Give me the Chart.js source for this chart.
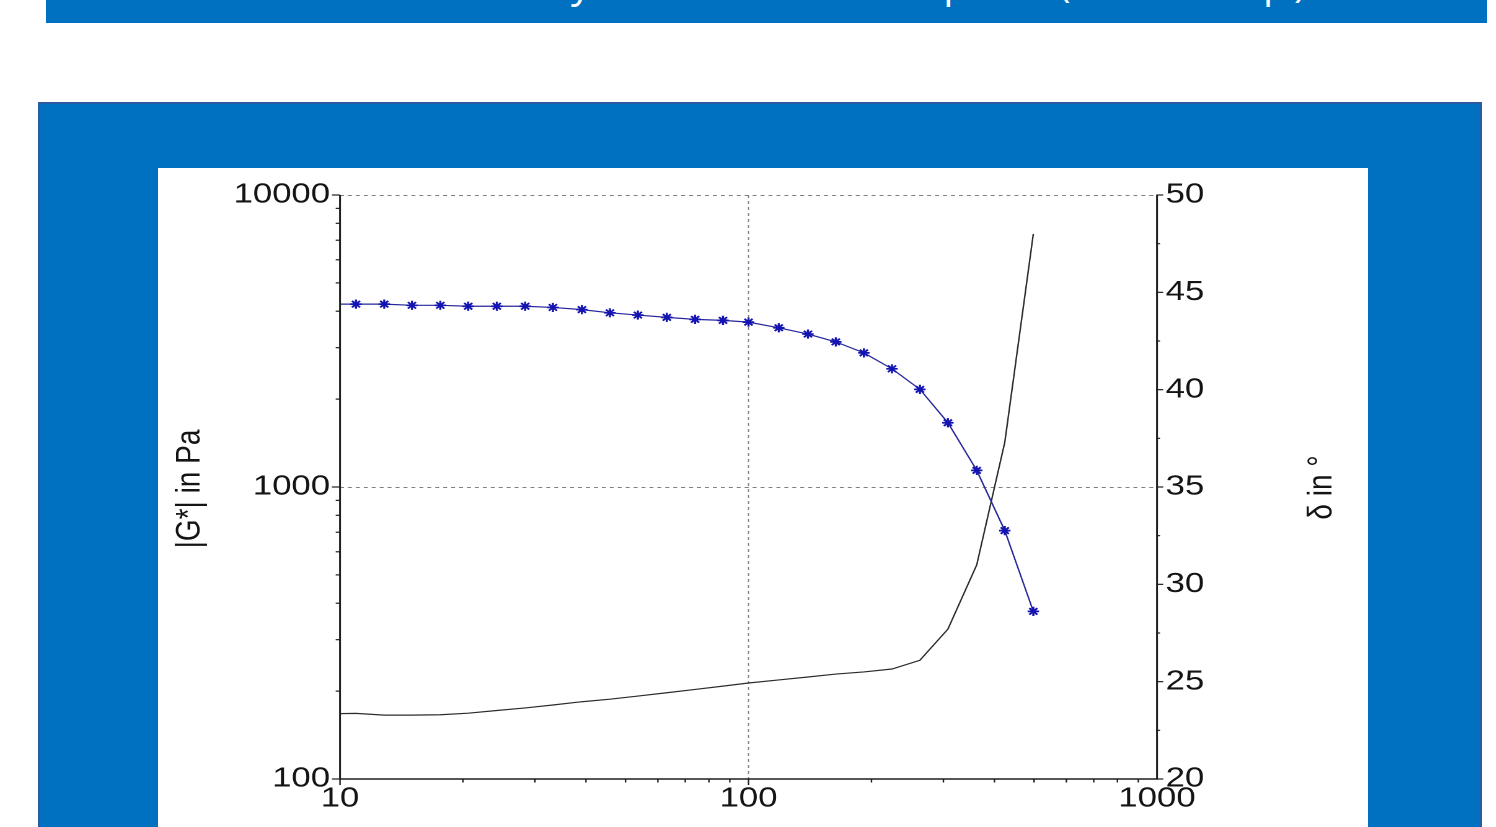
<!DOCTYPE html>
<html>
<head>
<meta charset="utf-8">
<script src="https://cdn.jsdelivr.net/npm/chart.js@4/dist/chart.umd.min.js"></script>
<style>
html,body{margin:0;padding:0;background:#fff;width:1496px;height:827px;overflow:hidden;}
#banner{position:absolute;left:46px;top:0;width:1441px;height:23px;background:#0070c0;overflow:hidden;}
#title{position:absolute;left:39px;top:-38px;font:40px/40px "Open Sans",sans-serif;color:#fff;white-space:nowrap;letter-spacing:2.6px;}
#title span{letter-spacing:6.6px;}
#panel{position:absolute;left:38px;top:102px;width:1440px;height:730px;background:#0070c0;border-left:2px solid #2c5aa0;border-top:2px solid #2c5aa0;border-right:2px solid #2c5aa0;}
#plot{position:absolute;left:158px;top:168px;width:1210px;height:659px;background:#fff;overflow:hidden;}
#c{position:absolute;left:0;top:0;transform-origin:0 0;}
</style>
</head>
<body>
<div id="banner"><div id="title">Structure of the Gummy mechanical samp<span>les (from top)</span></div></div>
<div id="panel"></div>
<div id="plot"><canvas id="c" width="976" height="659"></canvas></div>
<script>
// ---- data ----
const frequency = [9.33, 10.94, 12.83, 15.0, 17.6, 20.6, 24.2, 28.4, 33.2, 39.1, 45.8, 53.6, 63.1, 74.0, 86.6, 100, 118.6, 139.8, 163.6, 191.6, 224.5, 262.8, 307.7, 362, 424, 498];
const complexModulus = [4230, 4230, 4230, 4190, 4190, 4160, 4160, 4160, 4120, 4050, 3950, 3880, 3810, 3750, 3720, 3670, 3510, 3340, 3140, 2880, 2540, 2160, 1660, 1140, 709, 375];
const phaseAngle = [23.35, 23.37, 23.28, 23.28, 23.3, 23.38, 23.52, 23.65, 23.8, 23.97, 24.1, 24.26, 24.43, 24.6, 24.77, 24.93, 25.09, 25.24, 25.39, 25.5, 25.65, 26.1, 27.7, 31.0, 37.3, 48.0];
const xTickLabels = [10, 100, 1000];
const leftTickLabels = [100, 1000, 10000];
const rightTickLabels = [20, 25, 30, 35, 40, 45, 50];
const leftTitle = '|G*| in Pa';
const rightTitle = 'δ in °';

// ---- layout ----
const SX = 1210 / 976;               // horizontal stretch of the pasted chart
const canvasEl = document.getElementById('c');
canvasEl.style.transform = 'scaleX(' + SX + ')';
const LEFT_W = 182 / SX;
const RIGHT_W = 976 - 999 / SX;
const FONT = {family: '"Liberation Sans", Arial, sans-serif', size: 28};
const TXT = '#141414';

const framePlugin = {
  id: 'frame',
  beforeDatasetsDraw(chart) {
    const {ctx, chartArea: a, scales} = chart;
    ctx.save();
    ctx.strokeStyle = '#808080';
    ctx.lineWidth = 1;
    ctx.setLineDash([3.2, 3.2]);
    [1000, 10000].forEach(v => {
      const y = Math.round(scales.yG.getPixelForValue(v)) + 0.5;
      ctx.beginPath(); ctx.moveTo(a.left, y); ctx.lineTo(a.right, y); ctx.stroke();
    });
    ctx.setLineDash([3, 3]);
    [100].forEach(v => {
      const x = scales.x.getPixelForValue(v);
      ctx.beginPath(); ctx.moveTo(x, a.top); ctx.lineTo(x, a.bottom); ctx.stroke();
    });
    ctx.restore();
  },
  afterDatasetsDraw(chart) {
    const {ctx, chartArea: a, scales} = chart;
    ctx.save();
    ctx.strokeStyle = '#1e1e1e';
    ctx.lineWidth = 1.5;
    ctx.setLineDash([]);
    // axis lines
    ctx.beginPath();
    ctx.moveTo(a.left, a.top); ctx.lineTo(a.left, a.bottom);
    ctx.lineTo(a.right, a.bottom); ctx.moveTo(a.right, a.top); ctx.lineTo(a.right, a.bottom + 0.75);
    ctx.stroke();
    ctx.lineWidth = 1.2;
    // left ticks
    [100, 1000].forEach(d => {
      for (let m = 1; m <= 9; m++) {
        const y = scales.yG.getPixelForValue(m * d);
        const len = m === 1 ? 6.5 : 3.5;
        ctx.beginPath(); ctx.moveTo(a.left - len, y); ctx.lineTo(a.left + 0.5, y); ctx.stroke();
      }
    });
    {
      const y = scales.yG.getPixelForValue(10000);
      ctx.beginPath(); ctx.moveTo(a.left - 6.5, y); ctx.lineTo(a.left, y); ctx.stroke();
    }
    // bottom ticks
    [10, 100].forEach(d => {
      for (let m = 1; m <= 9; m++) {
        const x = scales.x.getPixelForValue(m * d);
        const len = m === 1 ? 6 : 3.5;
        ctx.beginPath(); ctx.moveTo(x, a.bottom); ctx.lineTo(x, a.bottom + len); ctx.stroke();
      }
    });
    // right ticks
    for (let v = 20; v <= 50; v += 2.5) {
      const y = scales.yD.getPixelForValue(v);
      const len = v % 5 === 0 ? 5 : 2.5;
      ctx.beginPath(); ctx.moveTo(a.right - 0.5, y); ctx.lineTo(a.right + len, y); ctx.stroke();
    }
    // axis titles (rotated, reading bottom to top)
    ctx.fillStyle = TXT;
    ctx.font = FONT.size + 'px ' + FONT.family;
    ctx.textAlign = 'center';
    ctx.textBaseline = 'middle';
    [[leftTitle, (190 - 158) / SX, 321], [rightTitle, (1322 - 158) / SX, 319.5]].forEach(([t, x, y]) => {
      ctx.save(); ctx.translate(x, y); ctx.rotate(-Math.PI / 2); ctx.fillText(t, 0, 0); ctx.restore();
    });
    ctx.restore();
  }
};

new Chart(canvasEl, {
  type: 'line',
  data: {
    datasets: [
      {
        label: '|G*|',
        data: frequency.map((f, i) => ({x: f, y: complexModulus[i]})),
        yAxisID: 'yG',
        borderColor: '#25259a',
        borderWidth: 1.2,
        pointStyle: 'star',
        pointRadius: 4.6,
        pointBorderColor: '#1414b0',
        pointBackgroundColor: '#1414b0',
        pointBorderWidth: 1.7,
        tension: 0,
        order: 1
      },
      {
        label: 'δ',
        data: frequency.map((f, i) => ({x: f, y: phaseAngle[i]})),
        yAxisID: 'yD',
        borderColor: '#2b2b2b',
        borderWidth: 1.2,
        pointRadius: 0,
        tension: 0,
        order: 2
      }
    ]
  },
  options: {
    responsive: false,
    animation: false,
    devicePixelRatio: 2,
    events: [],
    layout: {padding: {top: 27, left: 0, right: 0, bottom: 0}},
    plugins: {legend: {display: false}, tooltip: {enabled: false}},
    scales: {
      x: {
        type: 'logarithmic', position: 'bottom', min: 10, max: 1000,
        grid: {display: false, drawTicks: false}, border: {display: false},
        ticks: {autoSkip: false, maxRotation: 0, minRotation: 0, padding: 3, color: TXT, font: FONT,
          callback: v => xTickLabels.includes(v) ? String(v) : ''},
        afterFit: s => { s.height = 48; }
      },
      yG: {
        type: 'logarithmic', position: 'left', min: 100, max: 10000,
        grid: {display: false, drawTicks: false}, border: {display: false},
        ticks: {autoSkip: false, padding: 8, color: TXT, font: FONT,
          callback: v => leftTickLabels.includes(v) ? String(v) : ''},
        afterFit: s => { s.width = LEFT_W; }
      },
      yD: {
        type: 'linear', position: 'right', min: 20, max: 50,
        grid: {display: false, drawTicks: false}, border: {display: false},
        ticks: {autoSkip: false, stepSize: 5, padding: 7, color: TXT, font: FONT,
          callback: v => rightTickLabels.includes(v) ? String(v) : ''},
        afterFit: s => { s.width = RIGHT_W; }
      }
    }
  },
  plugins: [framePlugin]
});
</script>
</body>
</html>
